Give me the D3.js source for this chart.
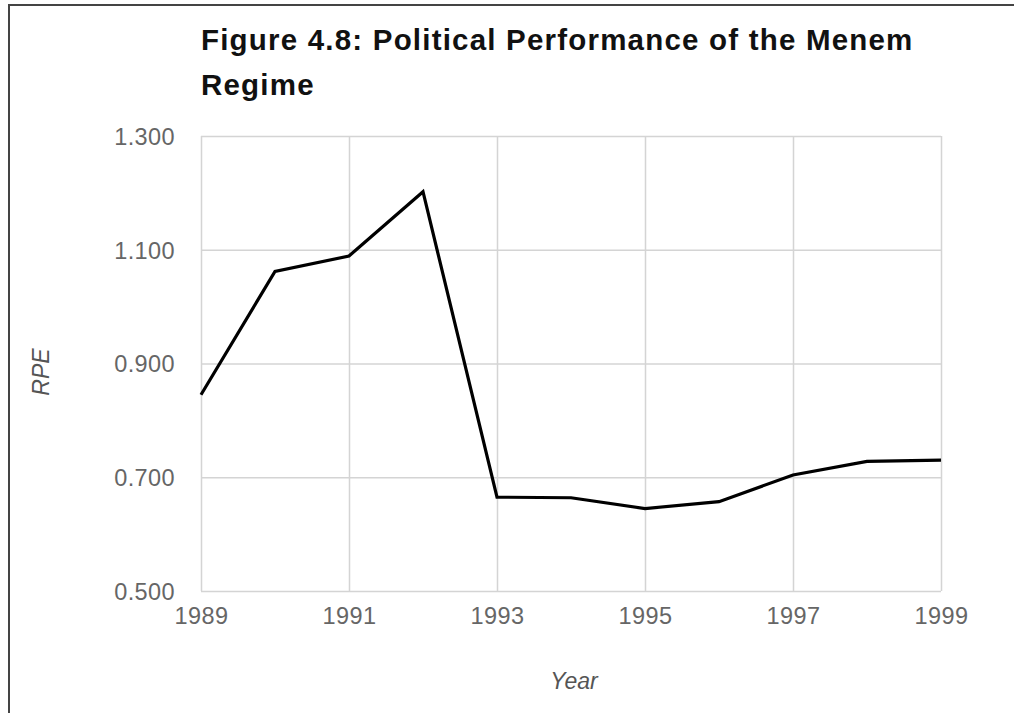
<!DOCTYPE html>
<html>
<head>
<meta charset="utf-8">
<script src="https://cdn.jsdelivr.net/npm/d3@7"></script>
<style>
  body { margin: 0; background: #fff; }
  svg { display: block; font-family: "Liberation Sans", Arial, sans-serif; }
</style>
</head>
<body>
<div id="chart"></div>
<script>
  // data
  var years = [1989, 1990, 1991, 1992, 1993, 1994, 1995, 1996, 1997, 1998, 1999];
  var rpe = [0.845, 1.062, 1.089, 1.202, 0.665, 0.664, 0.645, 0.657, 0.704, 0.728, 0.730];
  var yTicks = [0.5, 0.7, 0.9, 1.1, 1.3];
  var xTicks = [1989, 1991, 1993, 1995, 1997, 1999];

  var W = 1014, H = 713;
  var margin = {top: 136, right: 73, bottom: 122, left: 201};
  var width = W - margin.left - margin.right,
      height = H - margin.top - margin.bottom;

  var svg = d3.select("#chart").append("svg")
      .attr("width", W)
      .attr("height", H);

  // frame: top and left edges only
  svg.append("path")
      .attr("d", "M9,713 V5 H1014")
      .attr("fill", "none")
      .attr("stroke", "#444")
      .attr("stroke-width", 2);

  ////// scales //////
  var xScale = d3.scaleLinear()
      .domain([d3.min(years), d3.max(years)])
      .range([0, width]);
  var yScale = d3.scaleLinear()
      .domain([d3.min(yTicks), d3.max(yTicks)])
      .range([height, 0]);

  var g = svg.append("g")
      .attr("transform", "translate(" + margin.left + "," + margin.top + ")");

  // grid
  var yAxis = d3.axisLeft(yScale)
      .tickValues(yTicks)
      .tickSize(-width)
      .tickPadding(26)
      .tickFormat(d3.format(".3f"));
  var gy = g.append("g").attr("class", "y axis").call(yAxis);

  var xAxis = d3.axisBottom(xScale)
      .tickValues(xTicks)
      .tickSize(-height)
      .tickPadding(12)
      .tickFormat(d3.format("d"));
  var gx = g.append("g")
      .attr("class", "x axis")
      .attr("transform", "translate(0," + height + ")")
      .call(xAxis);

  [gx, gy].forEach(function(a) {
    a.select(".domain").remove();
    a.selectAll("line").attr("stroke", "#d4d4d4").attr("stroke-width", 1.5);
    a.selectAll("text")
        .attr("fill", "#666")
        .style("font-size", "23.5px")
        .style("letter-spacing", "0.4px");
  });
  gx.selectAll("text").attr("dy", "0.9em");
  gy.selectAll("text").attr("dy", "0.36em");

  // line
  var line = d3.line()
      .x(function(d, i) { return xScale(years[i]); })
      .y(function(d) { return yScale(d); });

  g.append("path")
      .datum(rpe)
      .attr("fill", "none")
      .attr("stroke", "#000")
      .attr("stroke-width", 3.2)
      .attr("stroke-linejoin", "miter")
      .attr("d", line);

  // title
  var title = svg.append("text")
      .attr("x", 201)
      .attr("y", 50)
      .attr("fill", "#111")
      .style("font-size", "29.5px")
      .style("letter-spacing", "1.2px")
      .style("font-weight", "bold");
  title.append("tspan").attr("x", 201).text("Figure 4.8: Political Performance of the Menem");
  title.append("tspan").attr("x", 201).attr("dy", 45).text("Regime");

  // axis titles
  svg.append("text")
      .attr("x", margin.left + width / 2 + 3)
      .attr("y", 689)
      .attr("text-anchor", "middle")
      .attr("fill", "#555")
      .style("font-size", "23px")
      .style("font-style", "italic")
      .text("Year");

  svg.append("text")
      .attr("transform", "translate(49,372) rotate(-90)")
      .attr("text-anchor", "middle")
      .attr("fill", "#555")
      .style("font-size", "23px")
      .style("font-style", "italic")
      .text("RPE");
</script>
</body>
</html>
